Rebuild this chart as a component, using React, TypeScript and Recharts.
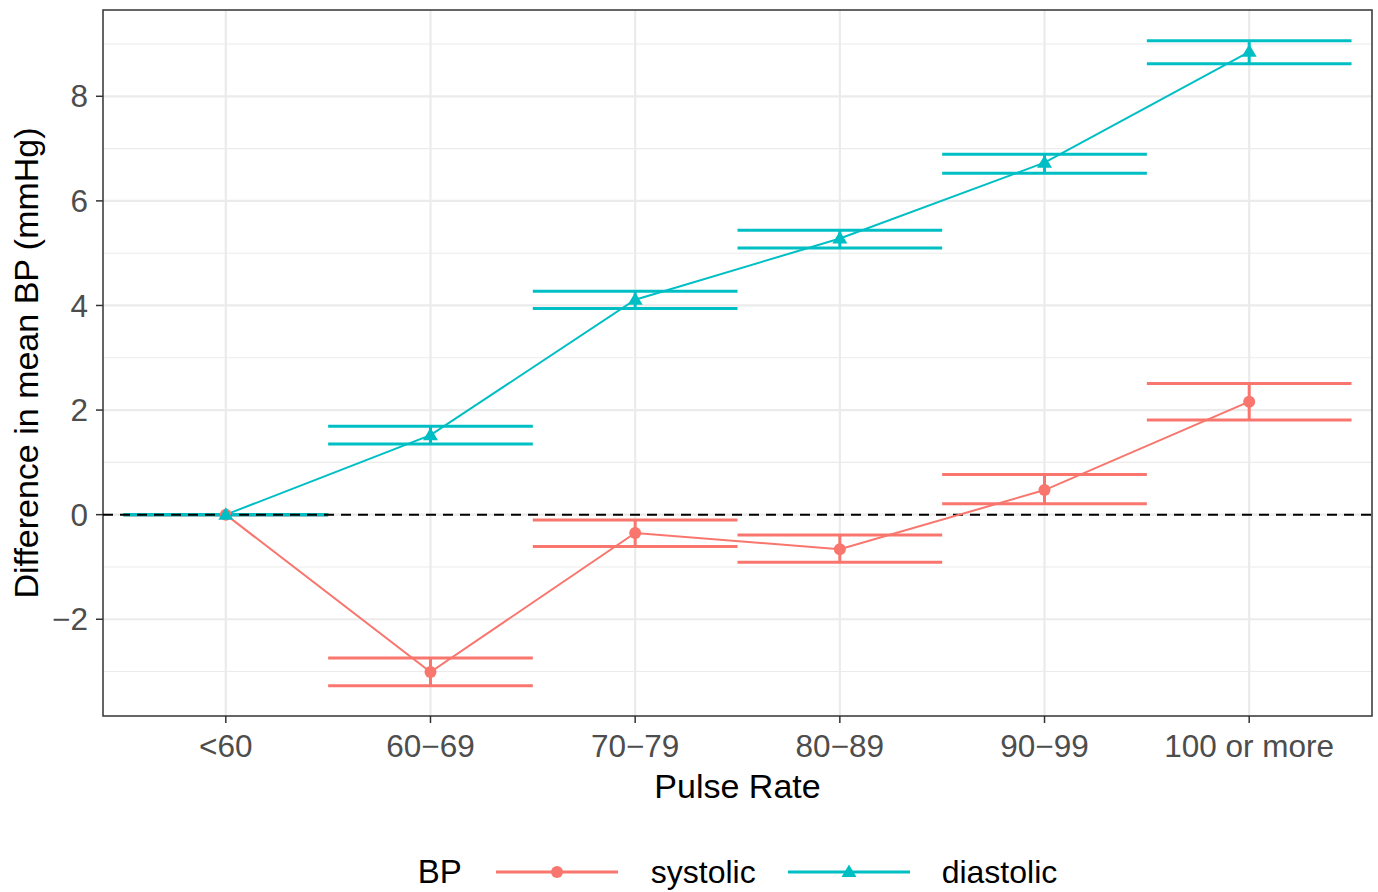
import React from 'react';
import {
  ComposedChart,
  Line,
  XAxis,
  YAxis,
  CartesianGrid,
  ReferenceLine,
  ReferenceArea,
} from 'recharts';

// ---------- data ----------
const categories = ['<60', '60\u221269', '70\u221279', '80\u221289', '90\u221299', '100 or more'];
const categoryIndex = [0, 1, 2, 3, 4, 5];

const systolicMean = [0, -3.01, -0.35, -0.66, 0.47, 2.16];
const systolicLower = [0, -3.27, -0.61, -0.91, 0.21, 1.81];
const systolicUpper = [0, -2.74, -0.1, -0.39, 0.77, 2.51];

const diastolicMean = [0, 1.52, 4.11, 5.28, 6.73, 8.85];
const diastolicLower = [0, 1.35, 3.94, 5.1, 6.53, 8.62];
const diastolicUpper = [0, 1.69, 4.27, 5.44, 6.89, 9.06];

const yTicks = [-2, 0, 2, 4, 6, 8];
const yMinorTicks = [-3, -1, 1, 3, 5, 7, 9];
const xDomain: [number, number] = [-0.6, 5.6];
const yDomain: [number, number] = [-3.85, 9.65];
const capHalfWidth = 0.5;

// ---------- styles ----------
const RED = '#F8766D';
const CYAN = '#00BFC4';
const FONT = '"Liberation Sans", Arial, Helvetica, sans-serif';

const systolicData = categoryIndex.map((x) => ({ x, y: systolicMean[x] }));
const diastolicData = categoryIndex.map((x) => ({ x, y: diastolicMean[x] }));

type Seg = { key: string; color: string; data: { x: number; y: number }[] };
const buildErrorBars = (name: string, color: string, lo: number[], hi: number[]): Seg[] => {
  const segs: Seg[] = [];
  categoryIndex.forEach((i) => {
    segs.push({
      key: `${name}-lo-${i}`,
      color,
      data: [
        { x: i - capHalfWidth, y: lo[i] },
        { x: i + capHalfWidth, y: lo[i] },
      ],
    });
    segs.push({
      key: `${name}-hi-${i}`,
      color,
      data: [
        { x: i - capHalfWidth, y: hi[i] },
        { x: i + capHalfWidth, y: hi[i] },
      ],
    });
    segs.push({
      key: `${name}-v-${i}`,
      color,
      data: [
        { x: i, y: lo[i] },
        { x: i, y: hi[i] },
      ],
    });
  });
  return segs;
};

const errorSegments = [
  ...buildErrorBars('sys', RED, systolicLower, systolicUpper),
  ...buildErrorBars('dia', CYAN, diastolicLower, diastolicUpper),
];

const CircleDot = (props: any) => {
  const { cx, cy } = props;
  if (cx == null || cy == null) return <g />;
  return <circle cx={cx} cy={cy} r={6} fill={RED} />;
};

const TriangleDot = (props: any) => {
  const { cx, cy } = props;
  if (cx == null || cy == null) return <g />;
  return (
    <polygon
      points={`${cx},${cy - 7.5} ${cx - 7.5},${cy + 5} ${cx + 7.5},${cy + 5}`}
      fill={CYAN}
    />
  );
};

const XTitle = (props: any) => {
  const vb = props.viewBox || {};
  return (
    <text
      x={vb.x + vb.width / 2}
      y={vb.y + 82}
      textAnchor="middle"
      fontSize={34}
      fontFamily={FONT}
      fill="#000"
    >
      Pulse Rate
    </text>
  );
};

const YTitle = (props: any) => {
  const vb = props.viewBox || {};
  const x = vb.x + 38;
  const y = vb.y + vb.height / 2;
  return (
    <text
      x={x}
      y={y}
      textAnchor="middle"
      fontSize={34}
      fontFamily={FONT}
      fill="#000"
      transform={`rotate(-90, ${x}, ${y})`}
    >
      Difference in mean BP (mmHg)
    </text>
  );
};

const LegendKey = ({ color, shape }: { color: string; shape: 'circle' | 'triangle' }) => (
  <svg width={122} height={20} style={{ display: 'block' }}>
    <line x1={0} y1={10} x2={122} y2={10} stroke={color} strokeWidth={3} />
    {shape === 'circle' ? (
      <circle cx={61} cy={10} r={6} fill={color} />
    ) : (
      <polygon points="61,2.5 53.5,15 68.5,15" fill={color} />
    )}
  </svg>
);

export default function App() {
  return (
    <div
      style={{
        position: 'absolute',
        left: 0,
        top: 0,
        width: 1378,
        height: 892,
        background: '#fff',
        fontFamily: FONT,
      }}
    >
      <ComposedChart
        width={1378}
        height={892}
        margin={{ top: 10, right: 6, left: 0, bottom: 116 }}
      >
        <CartesianGrid
          horizontalValues={yMinorTicks}
          vertical={false}
          stroke="#EBEBEB"
          strokeWidth={1.1}
        />
        <CartesianGrid
          horizontalValues={yTicks}
          verticalValues={categoryIndex}
          stroke="#EBEBEB"
          strokeWidth={2.2}
        />
        <XAxis
          type="number"
          dataKey="x"
          domain={xDomain}
          ticks={categoryIndex}
          interval={0}
          allowDataOverflow
          tickFormatter={(v: number) => categories[v] ?? ''}
          axisLine={false}
          tickLine={{ stroke: '#333333', strokeWidth: 1.5 }}
          tickSize={7}
          tickMargin={12}
          height={60}
          tick={{ fill: '#4D4D4D', fontSize: 31.5, fontFamily: FONT }}
          label={XTitle}
        />
        <YAxis
          type="number"
          domain={yDomain}
          ticks={yTicks}
          interval={0}
          allowDataOverflow
          tickFormatter={(v: number) => String(v).replace('-', '\u2212')}
          axisLine={false}
          tickLine={{ stroke: '#333333', strokeWidth: 1.5 }}
          tickSize={7}
          tickMargin={8}
          width={103}
          tick={{ fill: '#4D4D4D', fontSize: 31.5, fontFamily: FONT }}
          label={YTitle}
        />
        {errorSegments.map((s) => (
          <Line
            key={s.key}
            data={s.data}
            dataKey="y"
            type="linear"
            stroke={s.color}
            strokeWidth={3}
            dot={false}
            activeDot={false}
            isAnimationActive={false}
            legendType="none"
          />
        ))}
        <ReferenceLine y={0} stroke="#000" strokeWidth={2} strokeDasharray="10 7" />
        <Line
          data={systolicData}
          dataKey="y"
          type="linear"
          stroke={RED}
          strokeWidth={2}
          dot={<CircleDot />}
          activeDot={false}
          isAnimationActive={false}
        />
        <Line
          data={diastolicData}
          dataKey="y"
          type="linear"
          stroke={CYAN}
          strokeWidth={2}
          dot={<TriangleDot />}
          activeDot={false}
          isAnimationActive={false}
        />
        <ReferenceArea
          x1={xDomain[0]}
          x2={xDomain[1]}
          y1={yDomain[0]}
          y2={yDomain[1]}
          fill="none"
          fillOpacity={0}
          stroke="#333333"
          strokeWidth={1.5}
          ifOverflow="visible"
        />
      </ComposedChart>
      <div
        style={{
          position: 'absolute',
          left: 103,
          width: 1269,
          top: 852,
          height: 40,
          display: 'flex',
          justifyContent: 'center',
          alignItems: 'center',
          fontSize: 32,
          color: '#000',
        }}
      >
        <span style={{ fontSize: 33 }}>BP</span>
        <span style={{ width: 34 }} />
        <LegendKey color={RED} shape="circle" />
        <span style={{ width: 33 }} />
        <span>systolic</span>
        <span style={{ width: 32 }} />
        <LegendKey color={CYAN} shape="triangle" />
        <span style={{ width: 32 }} />
        <span>diastolic</span>
      </div>
    </div>
  );
}
